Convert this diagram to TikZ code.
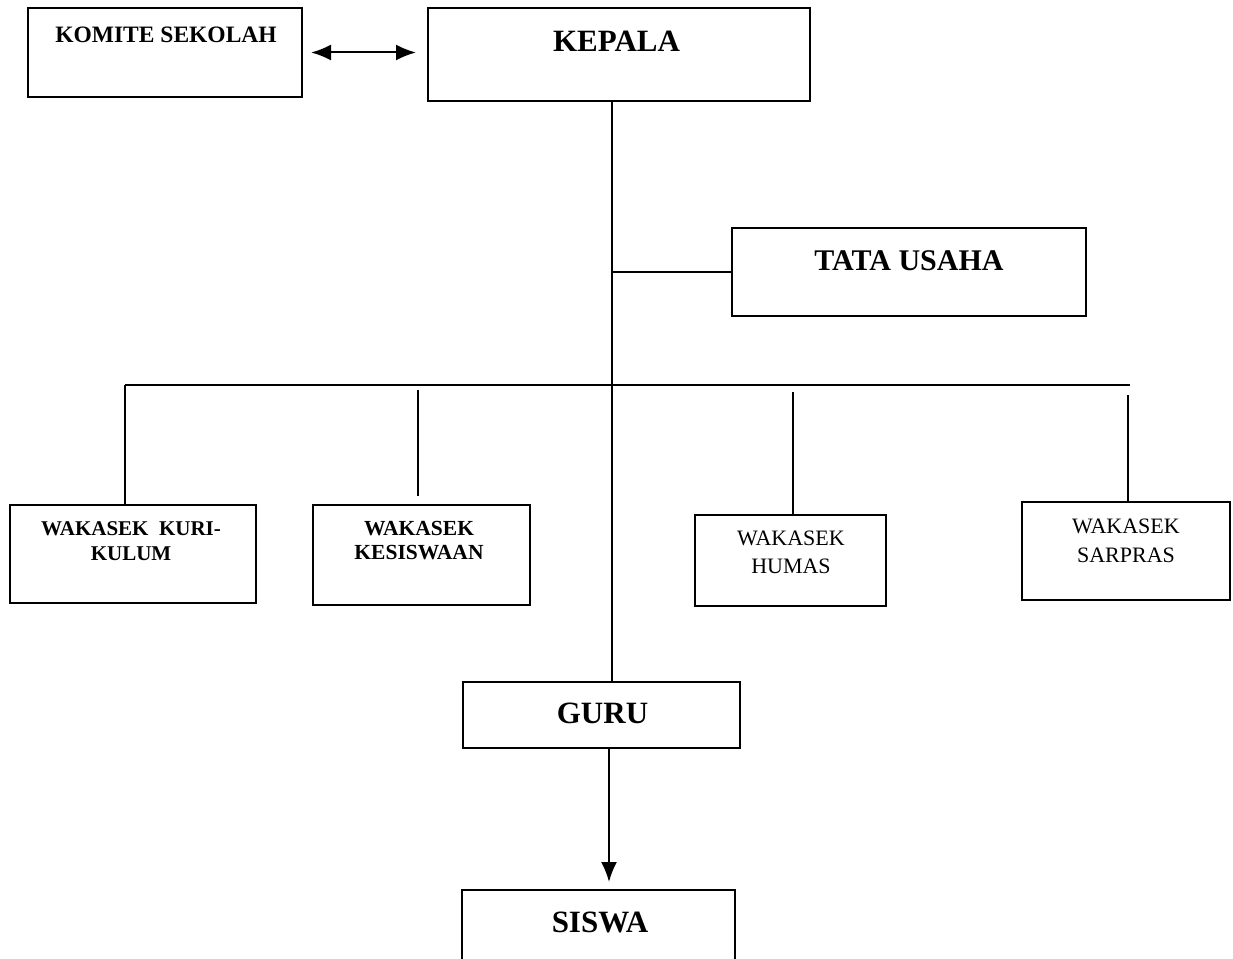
\documentclass[tikz,border=0pt]{standalone}
\usepackage{fontspec}
\setmainfont{Liberation Serif}
\usetikzlibrary{positioning, calc, arrows.meta}

\begin{document}
\begin{tikzpicture}[x=1pt, y=-1pt, line width=2pt,
	box/.style={draw, rectangle, inner sep=0pt},
	big/.style={font=\bfseries\fontsize{31}{31}\selectfont, anchor=base},
	>={Latex[length=20pt, width=16pt]}]
		\useasboundingbox (0,0) rectangle (1233,958);

		\node (komite) [box, minimum width=274pt, minimum height=89pt] at (165,52.5) {};
		\node (kepala) [box, minimum width=382pt, minimum height=93pt] at (619,54.5) {};
		\node (tu) [box, minimum width=354pt, minimum height=88pt] at (909,272) {};

		\node (komitetxt) [font=\bfseries\fontsize{23.5}{24}\selectfont, anchor=base] at (166,43) {KOMITE SEKOLAH};
		\node (kepalatxt) [big] at (616.5,52) {KEPALA};
		\node (tutxt) [big, font=\bfseries\fontsize{30}{30}\selectfont] at (909,270) {TATA USAHA};

		\draw [<->, shorten <=8pt, shorten >=11pt] (komite.east) -- (kepala.west |- komite.east);

		\node (wk1) [box, minimum width=246pt, minimum height=98pt] at (133,554) {};
		\node (wk2) [box, minimum width=217pt, minimum height=100pt] at (421.5,555) {};
		\node (wk3) [box, minimum width=191pt, minimum height=91pt] at (790.5,560.5) {};
		\node (wk4) [box, minimum width=208pt, minimum height=98pt] at (1126,551) {};

		\node (wk1txt) [align=center, font=\bfseries\fontsize{21}{25}\selectfont] at (131,541) {WAKASEK\ \ KURI-\\KULUM};
		\node (wk2txt) [align=center, font=\bfseries\fontsize{21.5}{24}\selectfont] at (419,541) {WAKASEK\\KESISWAAN};
		\node (wk3txt) [align=center, font=\fontsize{22}{28}\selectfont] at (791,552.5) {WAKASEK\\HUMAS};
		\node (wk4txt) [align=center, font=\fontsize{22}{29}\selectfont] at (1126,540.5) {WAKASEK\\SARPRAS};

		\node (guru) [box, minimum width=277pt, minimum height=66pt] at (601.5,715) {};
		\node (siswa) [box, minimum width=273pt, minimum height=75pt] at (598.5,927.5) {};
		\node (gurutxt) [big] at (602.5,723) {GURU};
		\node (siswatxt) [big] at (600,932) {SISWA};

		\coordinate (spine) at (612,0);
		\coordinate (bus) at (0,385);

		\draw (kepala.south -| spine) -- (guru.north -| spine);
		\draw (tu.west) -- (tu.west -| spine);

		\draw ([xshift=-8pt]wk1.north |- bus) -- ([xshift=4pt]wk4.north |- bus);
		\draw ([xshift=-8pt]wk1.north |- bus) -- ([xshift=-8pt]wk1.north);
		\draw [shorten <=5pt, shorten >=8pt] ([xshift=-3.5pt]wk2.north |- bus) -- ([xshift=-3.5pt]wk2.north);
		\draw [shorten <=7pt] ([xshift=2.5pt]wk3.north |- bus) -- ([xshift=2.5pt]wk3.north);
		\draw [shorten <=10pt] ([xshift=2pt]wk4.north |- bus) -- ([xshift=2pt]wk4.north);

		\draw [->, shorten >=7pt] ([xshift=7.5pt]guru.south) -- ([xshift=10.5pt]siswa.north);

	\end{tikzpicture}
\end{document}
